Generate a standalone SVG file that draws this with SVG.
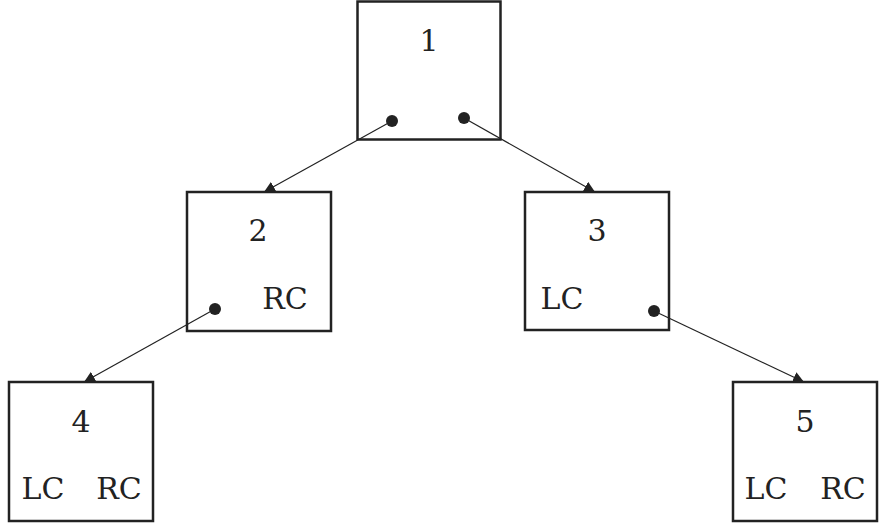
<svg xmlns="http://www.w3.org/2000/svg" width="887" height="527" viewBox="0 0 887 527">
<style>
.box{fill:#fff;stroke:#222;stroke-width:2.5}
.t{font-family:"DejaVu Serif","Liberation Serif",serif;font-size:30px;fill:#222;text-anchor:middle}
.dot{fill:#222}
.edge{stroke:#222;stroke-width:1.2;fill:none;marker-end:url(#arr)}
</style>
<defs>
<marker id="arr" viewBox="0 0 10 10" refX="10" refY="5" markerWidth="11" markerHeight="11" markerUnits="userSpaceOnUse" orient="auto">
<path d="M0,0 L10,5 L0,10 z" fill="#222"/>
</marker>
</defs>
<rect width="887" height="527" fill="#fff"/>
<g id="n1">
<rect class="box" x="357.5" y="1.5" width="143" height="138"/>
<text class="t" x="429" y="51">1</text>
<circle class="dot" cx="392" cy="121" r="6"/>
<circle class="dot" cx="464" cy="118" r="6"/>
</g>
<g id="n2">
<rect class="box" x="187" y="192" width="144" height="139"/>
<text class="t" x="258" y="241">2</text>
<text class="t" x="285" y="309">RC</text>
<circle class="dot" cx="215" cy="309" r="6"/>
</g>
<g id="n3">
<rect class="box" x="525" y="192" width="144" height="138"/>
<text class="t" x="597" y="241">3</text>
<text class="t" x="562" y="309">LC</text>
<circle class="dot" cx="654" cy="311" r="6"/>
</g>
<g id="n4">
<rect class="box" x="9" y="382" width="144" height="139"/>
<text class="t" x="81" y="432">4</text>
<text class="t" x="43" y="499">LC</text>
<text class="t" x="119" y="499">RC</text>
</g>
<g id="n5">
<rect class="box" x="733" y="382" width="144" height="139"/>
<text class="t" x="805" y="432">5</text>
<text class="t" x="766" y="499">LC</text>
<text class="t" x="843" y="499">RC</text>
</g>
<g id="connectors">
<line class="edge" x1="392" y1="121" x2="264" y2="192"/>
<line class="edge" x1="464" y1="118" x2="595" y2="192"/>
<line class="edge" x1="215" y1="309" x2="84" y2="382"/>
<line class="edge" x1="654" y1="311" x2="804" y2="382"/>
</g>
</svg>
